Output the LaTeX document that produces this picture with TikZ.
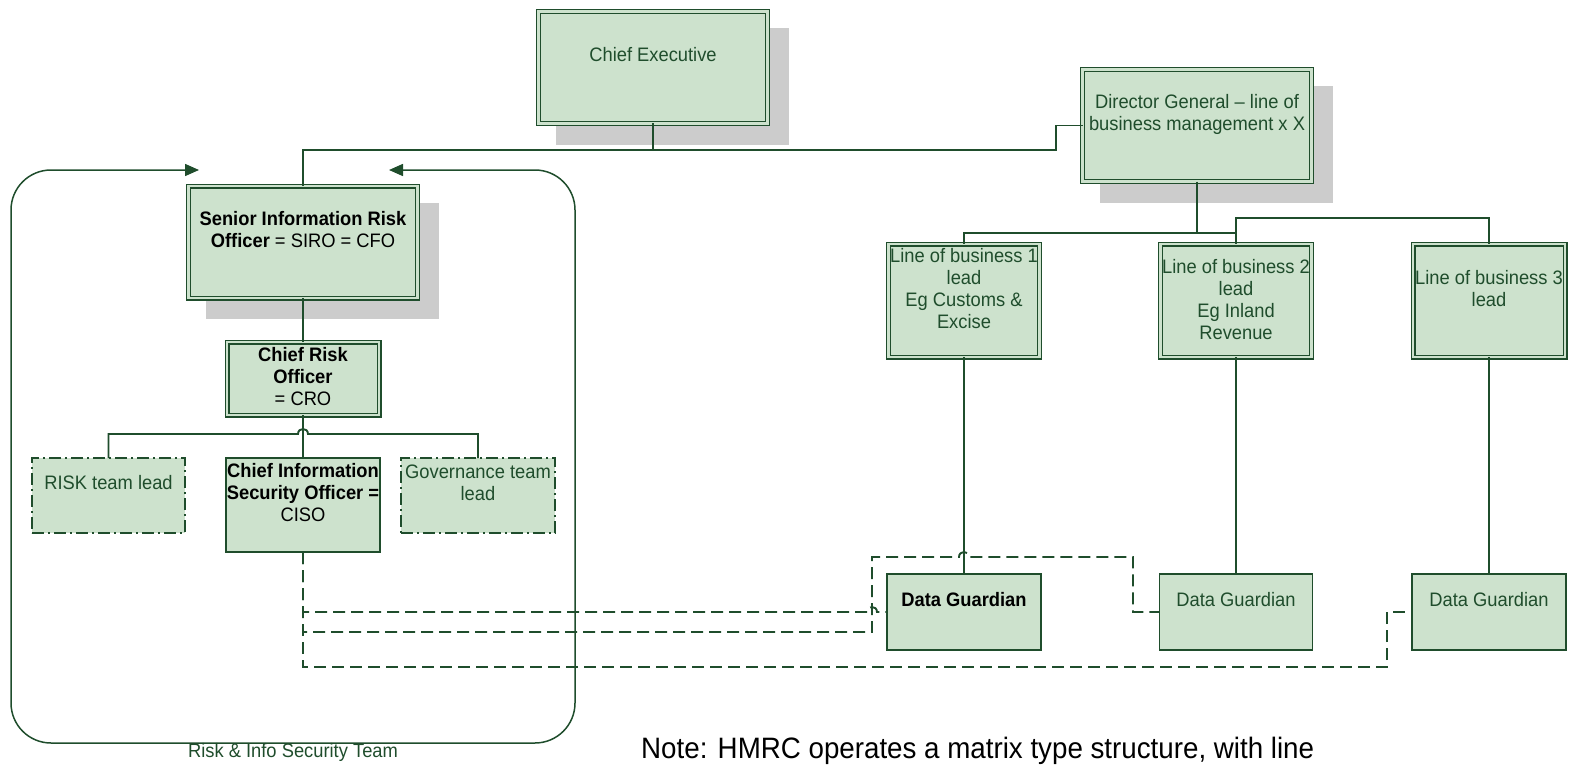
\documentclass[tikz,border=0pt]{standalone}
\usepackage{fontspec}
\setmainfont{Liberation Sans}[FakeStretch=0.94]
\usetikzlibrary{calc,arrows.meta,backgrounds}
\definecolor{orgline}{HTML}{1F4D2C}
\definecolor{orgfill}{HTML}{CDE2CD}
\definecolor{orgshadow}{HTML}{CCCCCC}
\tikzset{
  box/.style={draw=orgline, fill=orgfill, line width=1.8pt, inner sep=0pt, outer sep=0pt},
  dblbox/.style={box, line width=1.3pt, double=orgfill, double distance=2.4pt},
  dashdotbox/.style={box, dash pattern=on 12pt off 4pt on 2pt off 4pt},
  txt/.style={font=\fontsize{19.5}{22}\selectfont, text=orgline, align=center, inner sep=0pt},
  btxt/.style={txt, text=black},
  conn/.style={draw=orgline, line width=1.9pt},
  dsh/.style={conn, dash pattern=on 12pt off 6pt},
  frame/.style={draw=orgline, line width=1.5pt, rounded corners=40pt,
    {Triangle[length=14pt,width=12pt]}-{Triangle[length=14pt,width=12pt]}},
  shade/.style={fill=orgshadow}
}
\begin{document}
\begin{tikzpicture}[x=1pt,y=-1pt]
\useasboundingbox (0,0) rectangle (1573,765);

% --- boxes ---
\node[dblbox, minimum width=229, minimum height=112] (ce)   at (653,67.5) {};
\node[dblbox, minimum width=229, minimum height=112] (dg)   at (1197,125.5) {};
\node[dblbox, minimum width=229, minimum height=112] (siro) at (303,242) {};
\node[dblbox, minimum width=152, minimum height=73]  (cro)  at (303,378.5) {};
\node[dblbox, minimum width=151, minimum height=113] (lob1) at (964,300.5) {};
\node[dblbox, minimum width=151, minimum height=113] (lob2) at (1236,300.5) {};
\node[dblbox, minimum width=152, minimum height=113] (lob3) at (1489,300.5) {};
\node[box, minimum width=154, minimum height=94] (ciso) at (303,505) {};
\node[dashdotbox, minimum width=153, minimum height=75] (risk) at (108.5,495.5) {};
\node[dashdotbox, minimum width=154, minimum height=75] (gov)  at (478,495.5) {};
\node[box, minimum width=154, minimum height=76] (dg1) at (964,612) {};
\node[box, minimum width=153, minimum height=76] (dg2) at (1236,612) {};
\node[box, minimum width=154, minimum height=76] (dg3) at (1489,612) {};

% --- drop shadows ---
\begin{scope}[on background layer]
  \foreach \n in {ce,dg,siro}
    \fill[shade] ($(\n.north west)+(17,17)$) rectangle ($(\n.south east)+(21,21)$);
\end{scope}

% --- box texts ---
\node[txt]  (ce-t)   at ($(ce)+(0,-12.5)$) {Chief Executive};
\node[txt]  (dg-t)   at ($(dg)+(0,-11.5)$) {Director General \textendash{} line of\\business management x X};
\node[btxt] (siro-t) at ($(siro)+(0,-12)$) {\textbf{Senior Information Risk}\\\textbf{Officer} = SIRO = CFO};
\node[btxt] (cro-t)  at ($(cro)+(0,-1.5)$) {\textbf{Chief Risk}\\\textbf{Officer}\\= CRO};
\node[txt]  (risk-t) at ($(risk)+(0,-12.5)$) {RISK team lead};
\node[btxt] (ciso-t) at ($(ciso)+(0,-12.5)$) {\textbf{Chief Information}\\\textbf{Security Officer =}\\CISO};
\node[txt]  (gov-t)  at ($(gov)+(0,-12.5)$) {Governance team\\lead};
\node[txt]  (lob1-t) at ($(lob1)+(0,-11.5)$) {Line of business 1\\lead\\Eg Customs \&\\Excise};
\node[txt]  (lob2-t) at ($(lob2)+(0,-0.5)$) {Line of business 2\\lead\\Eg Inland\\Revenue};
\node[txt]  (lob3-t) at ($(lob3)+(0,-11.5)$) {Line of business 3\\lead};
\node[btxt] (dg1-t)  at ($(dg1)+(0,-12)$) {\textbf{Data Guardian}};
\node[txt]  (dg2-t)  at ($(dg2)+(0,-12)$) {Data Guardian};
\node[txt]  (dg3-t)  at ($(dg3)+(0,-12)$) {Data Guardian};

% --- team frame ---
\coordinate (teamL) at (199,170);
\coordinate (teamR) at (389,170);
\draw[frame] (teamL) -- (11,170) -- (11,743) -- (575,743) -- (575,170) -- (teamR);
\node[txt] (team-t) at (293,752) {Risk \& Info Security Team};

% --- solid reporting lines ---
\coordinate (cebus) at (1056,150);
\draw[conn] (ce.south) |- (siro.north |- cebus) -- (siro.north);
\draw[conn] (ce.south) |- (cebus) |- (dg.west);

\coordinate (dgbus) at (1197,233);
\draw[conn] (dg.south) -- (dgbus) -| (lob1.north);
\draw[conn] (dgbus) -| (lob2.north);
\draw[conn] (dgbus) -| ($(lob2.north)+(0,-26)$) -| (lob3.north);

\draw[conn] (siro.south) -- (cro.north);
\draw[conn] (cro.south) -- (ciso.north);
\coordinate (crobus) at ($(cro.south)+(0,19)$);
\draw[conn] (risk.north) |- ($(crobus)+(-5,0)$)
  .. controls +(0,-6.7) and +(0,-6.7) .. ($(crobus)+(5,0)$) -| (gov.north);

\draw[conn] (lob1.south) -- (dg1.north);
\draw[conn] (lob2.south) -- (dg2.north);
\draw[conn] (lob3.south) -- (dg3.north);

% --- dashed security lines from the CISO ---
\coordinate (dB1) at (872,632);
\coordinate (dB2) at (1133,557);
\coordinate (dC) at (1387,667);
\draw[dsh] (ciso.south) |- ($(dg1.west)+(-20,0)$)
  .. controls +(0,-6.7) and +(0,-6.7) .. ($(dg1.west)+(-10,0)$) -- (dg1.west);
\draw[dsh] (ciso.south) |- (dB1) |- ($(dg1.north |- dB2)+(-5,0)$)
  .. controls +(0,-6.7) and +(0,-6.7) .. ($(dg1.north |- dB2)+(5,0)$) -- (dB2) |- (dg2.west);
\draw[dsh] (ciso.south) |- (dC) |- (dg3.west);

% --- footnote ---
\node[btxt, font=\fontsize{29.5}{34}\selectfont, anchor=base west] (note) at (641,758)
  {Note: HMRC operates a matrix type structure, with line};
\end{tikzpicture}
\end{document}
